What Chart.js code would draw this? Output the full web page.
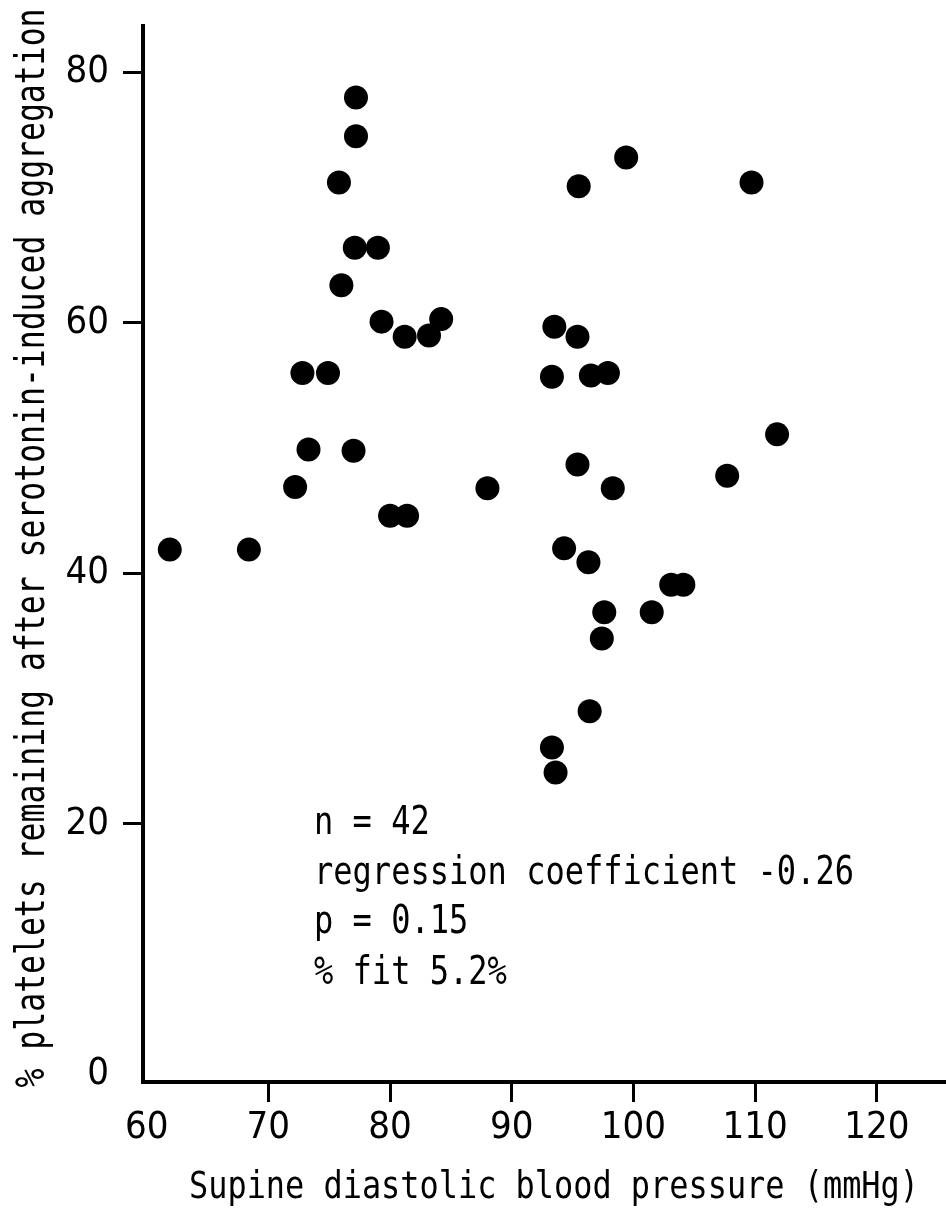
<!DOCTYPE html>
<html><head><meta charset="utf-8">
<script src="https://cdn.jsdelivr.net/npm/chart.js@4.4.1/dist/chart.umd.min.js"></script>
<style>html,body{margin:0;padding:0;background:#fff;}#wrap{width:946px;height:1218px;position:relative;background:#fff}</style>
</head><body><div id="wrap"><canvas id="c" width="946" height="1218"></canvas></div>
<script>
const bloodPressure = [61.9, 68.4, 72.2, 72.8, 73.3, 74.9, 75.8, 76.0, 77.0, 77.1, 77.2, 77.2, 79.0, 79.3, 80.0, 81.4, 81.2, 83.2, 84.2, 88.0, 93.5, 93.3, 93.3, 93.6, 94.3, 95.5, 95.4, 95.4, 96.3, 96.5, 96.4, 97.4, 97.6, 97.9, 98.3, 99.4, 101.5, 103.1, 104.1, 107.7, 109.7, 111.8];
const plateletsRemaining = [41.9, 41.9, 46.9, 56.0, 49.9, 56.0, 71.2, 63.0, 49.8, 66.0, 74.9, 78.0, 66.0, 60.1, 44.6, 44.6, 58.9, 59.0, 60.3, 46.8, 59.7, 55.7, 26.1, 24.1, 42.0, 70.9, 58.9, 48.7, 40.9, 55.8, 29.0, 34.8, 36.9, 56.0, 46.8, 73.2, 36.9, 39.1, 39.1, 47.8, 71.2, 51.1];
const xTickValues = [60, 70, 80, 90, 100, 110, 120];
const yTickValues = [0, 20, 40, 60, 80];
const xAxisTitle = 'Supine diastolic blood pressure (mmHg)';
const yAxisTitle = '% platelets remaining after serotonin-induced aggregation';
const statsLines = ['n = 42', 'regression coefficient -0.26', 'p = 0.15', '% fit 5.2%'];

const points = bloodPressure.map((x, i) => ({x: x, y: plateletsRemaining[i]}));
const MONO = '"DejaVu Sans Mono", "Liberation Mono", monospace';
const TICKFONT = '"DejaVu Sans Condensed", "DejaVu Sans", sans-serif';

function drawText(ctx, text, x, y, targetWidth, align, rotate) {
  ctx.save();
  ctx.translate(x, y);
  if (rotate) ctx.rotate(-Math.PI / 2);
  const w = ctx.measureText(text).width;
  ctx.scale(targetWidth / w, 1);
  ctx.textAlign = align;
  ctx.fillText(text, 0, 0);
  ctx.restore();
}

const textPlugin = {
  id: 'textPlugin',
  afterDraw(chart) {
    const ctx = chart.ctx;
    ctx.save();
    ctx.fillStyle = '#000';
    ctx.textBaseline = 'alphabetic';
    ctx.font = '39px ' + MONO;
    const sxRef = 540 / ctx.measureText(statsLines[1]).width;
    const baselines = [834, 884, 933, 984];
    statsLines.forEach((t, i) => {
      const w = ctx.measureText(t).width * sxRef;
      drawText(ctx, t, 314, baselines[i], w, 'left', false);
    });
    ctx.font = '37px ' + MONO;
    drawText(ctx, xAxisTitle, 554, 1198, 730, 'center', false);
    ctx.font = '40px ' + MONO;
    drawText(ctx, yAxisTitle, 44, 548, 1079, 'center', true);
    ctx.restore();
  }
};

new Chart(document.getElementById('c'), {
  type: 'scatter',
  data: {
    datasets: [{
      data: points,
      backgroundColor: '#000',
      borderColor: '#000',
      borderWidth: 0,
      pointRadius: 12,
      pointHoverRadius: 12
    }]
  },
  options: {
    responsive: false,
    devicePixelRatio: 1,
    animation: false,
    events: [],
    layout: {autoPadding: false, padding: {top: 26, right: 0, left: 0, bottom: 0}},
    plugins: {legend: {display: false}, tooltip: {enabled: false}, title: {display: false}},
    scales: {
      x: {
        type: 'linear',
        min: 59.7,
        max: 125.68,
        afterBuildTicks: s => { s.ticks = xTickValues.map(v => ({value: v})); },
        afterFit: s => { s.height = 136; s.paddingLeft = 0; s.paddingRight = 0; },
        ticks: {font: {family: TICKFONT, size: 38}, color: '#000', padding: 3, autoSkip: false, maxRotation: 0},
        grid: {drawOnChartArea: false, drawTicks: true, tickLength: 20, tickWidth: 3,
               tickColor: c => (c.tick && c.tick.value === 60) ? 'rgba(0,0,0,0)' : '#000'},
        border: {color: '#000', width: 4}
      },
      y: {
        type: 'linear',
        min: -0.6,
        max: 83.7,
        afterBuildTicks: s => { s.ticks = yTickValues.map(v => ({value: v})); },
        afterFit: s => { s.width = 143; s.paddingTop = 0; s.paddingBottom = 0; },
        ticks: {font: {family: TICKFONT, size: 38}, color: '#000', padding: 14, autoSkip: false},
        grid: {drawOnChartArea: false, drawTicks: true, tickLength: 20, tickWidth: 3,
               tickColor: c => (c.tick && c.tick.value === 0) ? 'rgba(0,0,0,0)' : '#000'},
        border: {color: '#000', width: 4}
      }
    }
  },
  plugins: [textPlugin]
});
</script>
</body></html>
